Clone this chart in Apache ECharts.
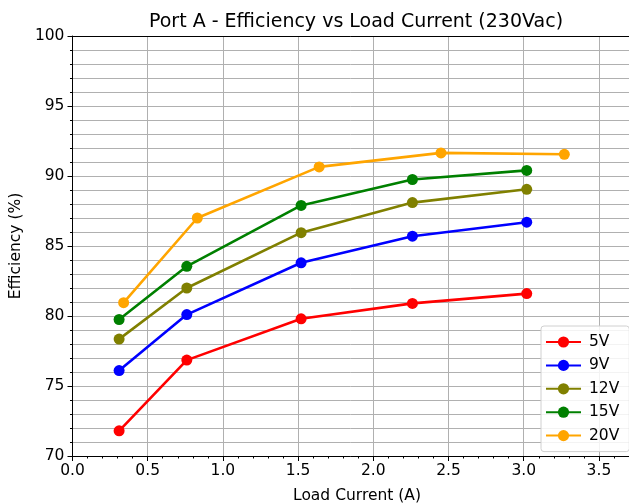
<!DOCTYPE html>
<html>
<head>
<meta charset="utf-8">
<script src="https://cdn.jsdelivr.net/npm/echarts@6/dist/echarts.min.js"></script>
<style>
html,body{margin:0;padding:0;background:#fff;}
#c{width:629px;height:503px;}
</style>
</head>
<body>
<div id="c"></div>
<script>
// Data
const seriesNames = ['5V', '9V', '12V', '15V', '20V'];
const seriesColors = ['#ff0000', '#0000ff', '#808000', '#008000', '#ffa500'];
const xLow = [0.31, 0.76, 1.52, 2.26, 3.02];
const x20V = [0.34, 0.83, 1.64, 2.45, 3.27];
const eff5V = [71.8, 76.85, 79.8, 80.9, 81.6];
const eff9V = [76.1, 80.1, 83.8, 85.7, 86.7];
const eff12V = [78.35, 82.0, 85.95, 88.1, 89.05];
const eff15V = [79.75, 83.55, 87.9, 89.75, 90.4];
const eff20V = [80.95, 87.0, 90.65, 91.65, 91.55];
const xTickLabels = ['0.0', '0.5', '1.0', '1.5', '2.0', '2.5', '3.0', '3.5'];

const xs = [xLow, xLow, xLow, xLow, x20V];
const ys = [eff5V, eff9V, eff12V, eff15V, eff20V];

const font = 'DejaVu Sans';
const X_MAX = 3.7;
const chart = echarts.init(document.getElementById('c'));

const series = seriesNames.map((n, i) => ({
  name: n,
  type: 'line',
  xAxisIndex: 0,
  data: xs[i].map((x, j) => [x, ys[i][j]]),
  symbol: 'circle',
  symbolSize: 11,
  lineStyle: { width: 2.6, color: seriesColors[i] },
  itemStyle: { color: seriesColors[i] },
  emphasis: { disabled: true },
  animation: false
}));

const blackLine = { color: '#000', width: 1 };

chart.setOption({
  animation: false,
  backgroundColor: '#fff',
  textStyle: { fontFamily: font },
  title: [{
    text: 'Port A - Efficiency vs Load Current (230Vac)',
    left: 351, top: 8, textAlign: 'center',
    textStyle: { fontFamily: font, fontSize: 19, fontWeight: 'normal', color: '#000' }
  }, {
    text: 'Load Current (A)',
    left: 352, top: 483, textAlign: 'center',
    textStyle: { fontFamily: font, fontSize: 15.5, fontWeight: 'normal', color: '#000' }
  }],
  grid: { left: 72, top: 36, height: 420, right: 0 },
  legend: {
    orient: 'vertical',
    left: 541, top: 326,
    itemWidth: 35, itemHeight: 14, itemGap: 7.4,
    padding: [8, 10, 8, 4],
    backgroundColor: 'rgba(255,255,255,0.85)',
    borderColor: '#d0d0d0', borderWidth: 1, borderRadius: 3,
    textStyle: { fontFamily: font, fontSize: 15.5, lineHeight: 14, color: '#000', padding: [0, 0, 0, 3] },
    data: seriesNames
  },
  xAxis: [{
    type: 'value', min: 0, max: X_MAX, interval: 0.5, position: 'bottom',
    axisLine: { show: true, onZero: false, lineStyle: blackLine },
    axisTick: { show: true, length: 5, lineStyle: blackLine },
    axisLabel: {
      margin: 7, color: '#000', fontSize: 15.5, fontFamily: font, showMaxLabel: false,
      formatter: v => { const k = Math.round(v / 0.5); return (Math.abs(v - k * 0.5) < 1e-6 && k < xTickLabels.length) ? xTickLabels[k] : ''; }
    },
    splitLine: { show: true, showMaxLine: false, lineStyle: { color: '#b0b0b0', width: 1 } }
  }, {
    // minor ticks every 0.1
    type: 'value', min: 0, max: X_MAX, interval: 0.1, position: 'bottom',
    axisLine: { show: false, onZero: false },
    axisTick: { show: true, length: 2.5, lineStyle: blackLine },
    axisLabel: { show: false },
    splitLine: { show: false }
  }, {
    // top spine
    type: 'value', min: 0, max: X_MAX, position: 'top',
    axisLine: { show: true, onZero: false, lineStyle: blackLine },
    axisTick: { show: false }, axisLabel: { show: false }, splitLine: { show: false }
  }],
  yAxis: {
    type: 'value', min: 70, max: 100, interval: 5,
    name: 'Efficiency (%)', nameLocation: 'middle', nameGap: 44,
    nameTextStyle: { fontFamily: font, fontSize: 15.5, color: '#000' },
    axisLine: { show: true, onZero: false, lineStyle: blackLine },
    axisTick: { show: true, length: 5, lineStyle: blackLine },
    minorTick: { show: true, splitNumber: 5, length: 2.5, lineStyle: blackLine },
    axisLabel: { margin: 8, color: '#000', fontSize: 15.5, fontFamily: font },
    splitLine: { show: true, lineStyle: { color: '#b0b0b0', width: 1 } },
    minorSplitLine: { show: true, lineStyle: { color: '#b0b0b0', width: 1 } }
  },
  series: series
});
</script>
</body>
</html>
